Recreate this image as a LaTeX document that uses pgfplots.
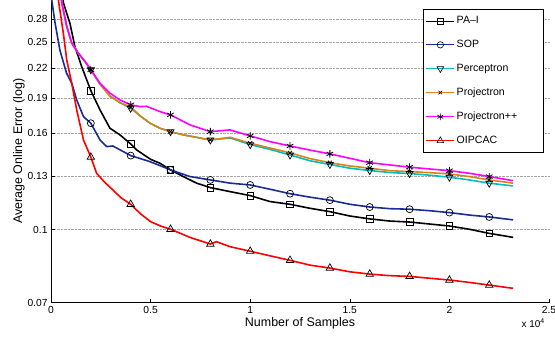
\documentclass[border=0pt]{standalone}
\usepackage{fontspec}
\setmainfont{Liberation Sans}
\usepackage{pgfplots}
\pgfplotsset{compat=1.18}
\definecolor{sopblue}{RGB}{25,45,150}
\definecolor{perccyan}{RGB}{0,190,190}
\definecolor{projorange}{RGB}{220,130,20}
\definecolor{projmag}{RGB}{255,0,255}
\definecolor{oipred}{RGB}{255,0,0}
\newcommand{\lt}[1]{\makebox[82bp][l]{#1}}
\begin{document}
\begin{tikzpicture}[x=1bp,y=1bp]
\useasboundingbox (0,0) rectangle (555,338);
\begin{axis}[
  at={(51bp,35.3bp)}, anchor=south west,
  scale only axis, width=498bp, height=302.7bp,
  xmin=0, xmax=2.5, ymin=0.07, ymax=0.307,
  ymode=log, clip mode=individual,
  axis x line*=bottom, axis y line*=left,
  axis line style={black, line width=0.7bp},
  xtick={0,0.5,1,1.5,2,2.5}, xticklabels={0,0.5,1,1.5,2,2.5},
  ytick={0.07,0.1,0.13,0.16,0.19,0.22,0.25,0.28},
  yticklabels={0.07,0.1,0.13,0.16,0.19,0.22,0.25,0.28},
  yminorticks=false, xminorticks=false,
  tick align=inside, major tick length=4bp,
  tick style={black, line width=0.6bp},
  ymajorgrids, major grid style={densely dotted, gray!70, line width=0.6bp},
  /pgf/number format/assume math mode=true,
  ticklabel style={font=\fontsize{10.3}{12}\selectfont},
  label style={font=\fontsize{12.5}{14}\selectfont},
  xlabel={Number of Samples},
  xlabel style={at={(axis description cs:0.5,0)}, anchor=center, yshift=-20.3bp},
  ylabel={Average Online Error (log)},
  ylabel style={at={(axis description cs:0,0.5)}, anchor=center, yshift=32bp},
  legend style={at={(axis description cs:0.99,0.969)}, anchor=north east,
    draw=black, line width=0.6bp, fill=white,
    font=\fontsize{10.6}{12}\selectfont, row sep=11bp,
    inner xsep=3bp, inner ysep=5bp},
  legend cell align=left,
  legend image code/.code={\draw[mark repeat=2,mark phase=2,#1] plot coordinates {(0bp,0bp) (14bp,0bp) (28bp,0bp)};},
]
% ---------------- lines ----------------
\addplot[black, line width=1.6bp, forget plot] coordinates {
(0.055,0.320) (0.062,0.303) (0.095,0.274) (0.120,0.2445) (0.154,0.2218) (0.200,0.1972)
(0.246,0.1795) (0.296,0.1641) (0.346,0.1589) (0.400,0.1520) (0.430,0.1476) (0.500,0.1410)
(0.547,0.1383) (0.600,0.1339) (0.664,0.1296) (0.731,0.1255) (0.800,0.1228) (0.900,0.1204)
(1.000,0.1181) (1.100,0.1147) (1.200,0.1132) (1.300,0.1110) (1.400,0.1092) (1.500,0.1069)
(1.600,0.1054) (1.700,0.1043) (1.800,0.1038) (1.900,0.1028) (2.000,0.1018) (2.100,0.1002)
(2.200,0.0982) (2.320,0.0963)};
\addplot[sopblue, line width=1.6bp, forget plot] coordinates {
(0.000,0.315) (0.020,0.275) (0.045,0.240) (0.078,0.2148) (0.104,0.2045) (0.129,0.1885)
(0.163,0.1737) (0.200,0.1682) (0.246,0.1550) (0.280,0.1500) (0.310,0.1505) (0.346,0.1477)
(0.400,0.1436) (0.497,0.1394) (0.600,0.1339) (0.698,0.1296) (0.800,0.1275) (0.900,0.1255)
(1.000,0.1244) (1.100,0.1218) (1.200,0.1192) (1.300,0.1172) (1.400,0.1155) (1.500,0.1132)
(1.600,0.1117) (1.700,0.1108) (1.800,0.1105) (1.900,0.1097) (2.000,0.1087) (2.100,0.1074)
(2.200,0.1064) (2.320,0.1049)};
\addplot[perccyan, line width=1.6bp, forget plot] coordinates {
(0.045,0.330) (0.054,0.303) (0.079,0.270) (0.104,0.2487) (0.137,0.2368) (0.171,0.2273)
(0.200,0.2183) (0.246,0.2035) (0.296,0.1920) (0.346,0.1860) (0.400,0.1810) (0.450,0.1740)
(0.497,0.1682) (0.547,0.1641) (0.600,0.1614) (0.664,0.1589) (0.800,0.1550) (0.900,0.1565)
(1.000,0.1515) (1.100,0.1480) (1.200,0.1440) (1.300,0.1400) (1.400,0.1375) (1.500,0.1350)
(1.600,0.1335) (1.700,0.1322) (1.800,0.1315) (1.900,0.1305) (2.000,0.1292) (2.100,0.1275)
(2.200,0.1255) (2.320,0.1238)};
\addplot[projorange, line width=1.6bp, forget plot] coordinates {
(0.045,0.330) (0.054,0.303) (0.079,0.270) (0.104,0.2487) (0.137,0.2368) (0.171,0.2273)
(0.200,0.2183) (0.246,0.2035) (0.296,0.1920) (0.346,0.1860) (0.400,0.1820) (0.450,0.1740)
(0.497,0.1682) (0.547,0.1641) (0.600,0.1614) (0.664,0.1589) (0.800,0.1550) (0.900,0.1570)
(1.000,0.1525) (1.100,0.1490) (1.200,0.1455) (1.300,0.1415) (1.400,0.1387) (1.500,0.1365)
(1.600,0.1350) (1.700,0.1334) (1.800,0.1328) (1.900,0.1321) (2.000,0.1313) (2.100,0.1296)
(2.200,0.1275) (2.320,0.1255)};
\addplot[projmag, line width=1.6bp, forget plot] coordinates {
(0.045,0.330) (0.054,0.303) (0.079,0.270) (0.104,0.2487) (0.137,0.2368) (0.171,0.2273)
(0.200,0.2183) (0.246,0.2045) (0.296,0.1948) (0.346,0.1885) (0.400,0.1840) (0.447,0.1824)
(0.480,0.1827) (0.547,0.1780) (0.600,0.1752) (0.698,0.1668) (0.800,0.1614) (0.898,0.1628)
(1.000,0.1581) (1.100,0.1537) (1.200,0.1505) (1.300,0.1475) (1.400,0.1448) (1.500,0.1417)
(1.600,0.1387) (1.700,0.1372) (1.800,0.1357) (1.900,0.1345) (2.000,0.1334) (2.100,0.1317)
(2.200,0.1296) (2.320,0.1270)};
\addplot[oipred, line width=1.6bp, forget plot] coordinates {
(0.030,0.320) (0.037,0.307) (0.062,0.261) (0.079,0.229) (0.104,0.2045) (0.129,0.1795)
(0.163,0.1550) (0.200,0.1425) (0.229,0.1317) (0.270,0.1260) (0.311,0.1214) (0.350,0.1170)
(0.400,0.1132) (0.450,0.1080) (0.500,0.1040) (0.550,0.1018) (0.600,0.1002) (0.698,0.0963)
(0.800,0.0932) (0.830,0.0943) (0.900,0.0920) (1.000,0.0900) (1.100,0.0880) (1.200,0.0861)
(1.300,0.0841) (1.400,0.0829) (1.500,0.0814) (1.600,0.0805) (1.700,0.0799) (1.800,0.0796)
(1.900,0.0789) (2.000,0.0782) (2.100,0.0773) (2.200,0.0763) (2.320,0.0751)};
% ---------------- markers ----------------
\addplot[only marks, mark=square, mark size=3.3bp, mark options={draw=black, fill=none, line width=0.7bp}, forget plot] coordinates {
(0.2,0.1972) (0.4,0.1520) (0.6,0.1339) (0.8,0.1228) (1.0,0.1181) (1.2,0.1132) (1.4,0.1092)
(1.6,0.1054) (1.8,0.1038) (2.0,0.1018) (2.2,0.0982)};
\addplot[only marks, mark=o, mark size=3.5bp, mark options={draw=black, fill=none, line width=0.7bp}, forget plot] coordinates {
(0.2,0.1682) (0.4,0.1436) (0.6,0.1339) (0.8,0.1275) (1.0,0.1244) (1.2,0.1192) (1.4,0.1155)
(1.6,0.1117) (1.8,0.1105) (2.0,0.1087) (2.2,0.1064)};
\addplot[only marks, mark=triangle, mark size=4bp, mark options={draw=black, fill=none, line width=0.7bp, rotate=180}, forget plot] coordinates {
(0.2,0.2183) (0.4,0.1810) (0.6,0.1614) (0.8,0.1550) (1.0,0.1515) (1.2,0.1440) (1.4,0.1375)
(1.6,0.1335) (1.8,0.1315) (2.0,0.1292) (2.2,0.1255)};
\addplot[only marks, mark=x, mark size=2.8bp, mark options={draw=black, line width=0.8bp}, forget plot] coordinates {
(0.2,0.2183) (0.4,0.1820) (0.6,0.1614) (0.8,0.1550) (1.0,0.1525) (1.2,0.1455) (1.4,0.1387)
(1.6,0.1350) (1.8,0.1328) (2.0,0.1313) (2.2,0.1275)};
\addplot[only marks, mark=asterisk, mark size=3.8bp, mark options={draw=black, line width=0.8bp}, forget plot] coordinates {
(0.2,0.2183) (0.4,0.1840) (0.6,0.1752) (0.8,0.1614) (1.0,0.1581) (1.2,0.1505) (1.4,0.1448)
(1.6,0.1387) (1.8,0.1357) (2.0,0.1334) (2.2,0.1296)};
\addplot[only marks, mark=triangle, mark size=4.3bp, mark options={draw=black, fill=none, line width=0.7bp}, forget plot] coordinates {
(0.2,0.1425) (0.4,0.1132) (0.6,0.1002) (0.8,0.0932) (1.0,0.0900) (1.2,0.0861) (1.4,0.0829)
(1.6,0.0805) (1.8,0.0796) (2.0,0.0782) (2.2,0.0763)};
% ---------------- legend ----------------
\addlegendimage{black, line width=0.8bp, mark=square, mark size=3bp, mark options={draw=black, fill=none, line width=0.6bp}}
\addlegendimage{sopblue, line width=0.8bp, mark=o, mark size=3.2bp, mark options={draw=black, fill=none, line width=0.6bp}}
\addlegendimage{perccyan, line width=0.8bp, mark=triangle, mark size=3.8bp, mark options={draw=black, fill=none, line width=0.6bp, rotate=180}}
\addlegendimage{projorange, line width=0.8bp, mark=x, mark size=2.5bp, mark options={draw=black, line width=0.7bp}}
\addlegendimage{projmag, line width=0.8bp, mark=asterisk, mark size=3.4bp, mark options={draw=black, line width=0.7bp}}
\addlegendimage{oipred, line width=0.8bp, mark=triangle, mark size=3.8bp, mark options={draw=black, fill=none, line width=0.6bp}}
\legend{\lt{PA--I},\lt{SOP},\lt{Perceptron},\lt{Projectron},\lt{Projectron++},\lt{OIPCAC}}
\node[anchor=east, inner sep=0pt, font=\fontsize{10}{12}\selectfont] at (axis description cs:0.992,0) [yshift=-20.3bp] {x 10\textsuperscript{4}};
\end{axis}
\end{tikzpicture}
\end{document}
